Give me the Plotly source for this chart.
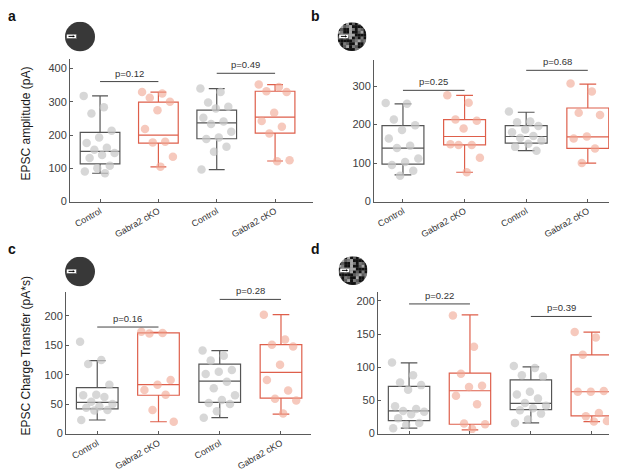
import base64
import plotly.graph_objects as go

# ---------------- data ----------------
categories = ["Control", "Gabra2 cKO", "Control", "Gabra2 cKO"]

# panel a: EPSC amplitude (pA), solid stimulus
a_ctrl1 = [318, 284, 265, 213, 193, 176, 162, 156, 146, 140, 131, 108, 100, 90, 85]
a_cko1 = [330, 325, 312, 300, 275, 218, 180, 178, 135, 105]
a_ctrl2 = [340, 330, 298, 285, 280, 252, 241, 233, 210, 193, 188, 165, 150, 96]
a_cko2 = [352, 345, 332, 330, 267, 242, 225, 205, 124, 121]
a_q1 = [113, 176, 189, 206]
a_med = [151, 200, 237, 254]
a_q3 = [208, 299, 275, 332]
a_lo = [85, 104, 96, 122]
a_hi = [318, 329, 340, 352]
a_p = ["p=0.12", "p=0.49"]
a_bracket = [361, 386]

# panel b: EPSC amplitude (pA), checkerboard stimulus
b_ctrl1 = [256, 254, 213, 198, 186, 164, 145, 139, 112, 103, 95, 80, 67]
b_cko1 = [276, 257, 213, 210, 190, 149, 147, 147, 114, 76]
b_ctrl2 = [234, 208, 206, 196, 187, 180, 170, 165, 158, 150, 142, 132]
b_cko2 = [307, 286, 231, 225, 169, 164, 138, 100]
b_q1 = [97, 147, 152, 138]
b_med = [139, 169, 169, 168]
b_q3 = [197, 213, 197, 243]
b_lo = [69, 76, 132, 100]
b_hi = [254, 276, 232, 305]
b_p = ["p=0.25", "p=0.68"]
b_bracket = [289, 341]

# panel c: EPSC charge transfer (pA*s), solid stimulus
c_ctrl1 = [156, 125, 118, 83, 66, 65, 62, 54, 50, 46, 44, 40, 39, 23]
c_cko1 = [173, 171, 170, 91, 83, 74, 66, 40, 20]
c_ctrl2 = [141, 132, 124, 108, 105, 101, 88, 77, 65, 57, 52, 50, 38, 27]
c_cko2 = [202, 160, 151, 148, 117, 91, 73, 59, 56, 34]
c_q1 = [42, 65, 53, 60]
c_med = [53, 83, 89, 104]
c_q3 = [78, 171, 118, 151]
c_lo = [23, 20, 27, 33]
c_hi = [124, 172, 141, 202]
c_p = ["p=0.16", "p=0.28"]
c_bracket = [181, 228]

# panel d: EPSC charge transfer (pA*s), checkerboard stimulus
d_ctrl1 = [107, 88, 77, 73, 66, 41, 37, 34, 33, 29, 23, 16, 13, 8]
d_cko1 = [178, 131, 90, 72, 70, 57, 44, 15, 14, 7]
d_ctrl2 = [102, 99, 88, 86, 63, 59, 53, 46, 42, 38, 35, 30, 21, 16]
d_cko2 = [153, 145, 119, 64, 63, 63, 31, 26, 19, 18]
d_q1 = [19.5, 14, 36, 26.5]
d_med = [34, 64.5, 45.5, 63]
d_q3 = [71, 91, 81, 118.5]
d_lo = [8, 5.5, 16, 18]
d_hi = [106.5, 179, 100.5, 153]
d_p = ["p=0.22", "p=0.39"]
d_bracket = [195.5, 176.6]

y_titles = ["EPSC amplitude (pA)", "EPSC Charge Transfer (pA*s)"]

# ---------------- layout helpers ----------------
W, H = 617, 471
FONT = "Liberation Sans, Arial, sans-serif"
AX = "#5a5a5a"
GREY_LINE = "rgb(85,85,85)"
RED_LINE = "rgb(222,95,75)"
GREY_PT = "rgba(200,200,200,0.72)"
RED_PT = "rgba(240,165,145,0.6)"


def px_x(p):
    return p / W


def px_y(p):
    return 1 - p / H


panels = [
    dict(name="a", pts=[a_ctrl1, a_cko1, a_ctrl2, a_cko2], q1=a_q1, med=a_med, q3=a_q3,
         lo=a_lo, hi=a_hi, p=a_p, br=a_bracket, xd=(62, 305), yd=(52, 196),
         xr=(0.485, 4.65), yr=(0, 428), dt=100, ymax=400, labels=True, icon="solid",
         letter=(4, 8), icon_c=(72, 29), icon_r=15),
    dict(name="b", pts=[b_ctrl1, b_cko1, b_ctrl2, b_cko2], q1=b_q1, med=b_med, q3=b_q3,
         lo=b_lo, hi=b_hi, p=b_p, br=b_bracket, xd=(366, 610), yd=(53, 196),
         xr=(0.53, 4.49), yr=(0, 367), dt=100, ymax=300, labels=True, icon="checker",
         letter=(307, 8), icon_c=(344, 29), icon_r=14.5),
    dict(name="c", pts=[c_ctrl1, c_cko1, c_ctrl2, c_cko2], q1=c_q1, med=c_med, q3=c_q3,
         lo=c_lo, hi=c_hi, p=c_p, br=c_bracket, xd=(58, 303), yd=(288, 431),
         xr=(0.49, 4.49), yr=(0, 240), dt=50, ymax=200, labels=True, icon="solid",
         letter=(4, 244), icon_c=(72, 267), icon_r=15),
    dict(name="d", pts=[d_ctrl1, d_cko1, d_ctrl2, d_cko2], q1=d_q1, med=d_med, q3=d_q3,
         lo=d_lo, hi=d_hi, p=d_p, br=d_bracket, xd=(370, 613), yd=(288, 431),
         xr=(0.49, 4.48), yr=(0, 213), dt=50, ymax=200, labels=False, icon="checker",
         letter=(307, 244), icon_c=(345, 266), icon_r=14.5),
]


def icon_svg(kind):
    parts = ['<svg xmlns="http://www.w3.org/2000/svg" width="60" height="60" viewBox="0 0 30 30">',
             '<defs><clipPath id="c"><circle cx="15" cy="15" r="15"/></clipPath></defs>']
    if kind == "solid":
        parts.append('<circle cx="15" cy="15" r="15" fill="#383838"/>')
    else:
        parts.append('<g clip-path="url(#c)"><rect x="0" y="0" width="30" height="30" fill="#7a7a7a"/>')
        shades = ["#111111", "#7a7a7a", "#111111", "#a8a8a8", "#111111", "#5c5c5c"]
        for r in range(10):
            for col in range(10):
                k = (r * 7 + col * 13 + (r * col) % 5) % len(shades)
                parts.append('<rect x="%d" y="%d" width="3" height="3" fill="%s"/>'
                             % (col * 3, r * 3, shades[k]))
        parts.append('</g>')
    parts.append('<rect x="1.5" y="12.5" width="10" height="4.5" fill="white" stroke="#222" stroke-width="0.4"/>')
    parts.append('<line x1="3.5" y1="14.75" x2="8.5" y2="14.75" stroke="black" stroke-width="1"/>')
    parts.append('<polygon points="10,14.75 7.8,13.6 7.8,15.9" fill="black"/>')
    parts.append('</svg>')
    return "data:image/svg+xml;base64," + base64.b64encode("".join(parts).encode()).decode()


fig = go.Figure()
shapes, annotations, images = [], [], []
layout = {}

for i, pn in enumerate(panels):
    sfx = "" if i == 0 else str(i + 1)
    xa, ya = "x" + sfx, "y" + sfx
    # scatter points (drawn first so box lines sit on top)
    for g, vals in enumerate(pn["pts"]):
        n = len(vals)
        xs = [g + 1 + (((j * 0.6180339) % 1.0) - 0.5) * 0.56 for j in range(n)]
        fig.add_trace(go.Scatter(
            x=xs, y=vals, mode="markers", xaxis=xa, yaxis=ya, showlegend=False,
            marker=dict(size=8.5, color=GREY_PT if g % 2 == 0 else RED_PT, line=dict(width=0)),
            hoverinfo="y"))
for i, pn in enumerate(panels):
    sfx = "" if i == 0 else str(i + 1)
    xa, ya = "x" + sfx, "y" + sfx
    for g in range(4):
        col = GREY_LINE if g % 2 == 0 else RED_LINE
        fig.add_trace(go.Box(
            x=[g + 1], q1=[pn["q1"][g]], median=[pn["med"][g]], q3=[pn["q3"][g]],
            lowerfence=[pn["lo"][g]], upperfence=[pn["hi"][g]],
            width=0.68, whiskerwidth=0.4, boxpoints=False,
            fillcolor="rgba(0,0,0,0)", line=dict(color=col, width=1.2),
            xaxis=xa, yaxis=ya, showlegend=False))

    xkey = "xaxis" + sfx
    ykey = "yaxis" + sfx
    layout[xkey] = dict(
        domain=[px_x(pn["xd"][0]), px_x(pn["xd"][1])], range=list(pn["xr"]),
        anchor=ya, showline=True, linecolor=AX, linewidth=1, ticks="inside", ticklen=3,
        tickcolor=AX, tickvals=[1, 2, 3, 4],
        ticktext=categories if pn["labels"] else ["", "", "", ""],
        showticklabels=pn["labels"], tickangle=-30,
        tickfont=dict(family=FONT, size=9, color="#333333"),
        showgrid=False, zeroline=False, fixedrange=True)
    layout[ykey] = dict(
        domain=[px_y(pn["yd"][1]), px_y(pn["yd"][0])], range=list(pn["yr"]),
        anchor=xa, showline=True, linecolor=AX, linewidth=1, ticks="inside", ticklen=3,
        tickcolor=AX, tickvals=list(range(0, pn["ymax"] + 1, pn["dt"])),
        tickfont=dict(family=FONT, size=11, color="#404040"),
        showgrid=False, zeroline=False, fixedrange=True)

    # significance brackets
    for k in range(2):
        x0, x1 = 2 * k + 1, 2 * k + 2
        yv = pn["br"][k]
        shapes.append(dict(type="line", xref=xa, yref=ya, x0=x0, x1=x1, y0=yv, y1=yv,
                           line=dict(color="#444444", width=1)))
        annotations.append(dict(xref=xa, yref=ya, x=(x0 + x1) / 2, y=yv, text=pn["p"][k],
                                showarrow=False, yanchor="bottom", yshift=1,
                                font=dict(family=FONT, size=9.5, color="#333333")))
    # panel letter
    annotations.append(dict(xref="paper", yref="paper", x=px_x(pn["letter"][0]),
                            y=px_y(pn["letter"][1]), text="<b>%s</b>" % pn["name"],
                            showarrow=False, xanchor="center", yanchor="middle",
                            font=dict(family=FONT, size=14, color="#111111")))
    # icon
    cx, cy = pn["icon_c"]
    r = pn["icon_r"]
    images.append(dict(source=icon_svg(pn["icon"]), xref="paper", yref="paper",
                       x=px_x(cx - r), y=px_y(cy - r), sizex=2 * r / W, sizey=2 * r / H,
                       xanchor="left", yanchor="top", sizing="stretch", layer="above"))

# y axis titles
annotations.append(dict(xref="paper", yref="paper", x=px_x(18), y=px_y(117), text=y_titles[0],
                        textangle=-90, showarrow=False, xanchor="center", yanchor="middle",
                        font=dict(family=FONT, size=12, color="#1a1a1a")))
annotations.append(dict(xref="paper", yref="paper", x=px_x(18), y=px_y(353), text=y_titles[1],
                        textangle=-90, showarrow=False, xanchor="center", yanchor="middle",
                        font=dict(family=FONT, size=12, color="#1a1a1a")))

fig.update_layout(
    width=W, height=H, margin=dict(l=0, r=0, t=0, b=0),
    paper_bgcolor="white", plot_bgcolor="white", showlegend=False,
    shapes=shapes, annotations=annotations, images=images,
    font=dict(family=FONT), **layout)

fig.write_html("out.html")
